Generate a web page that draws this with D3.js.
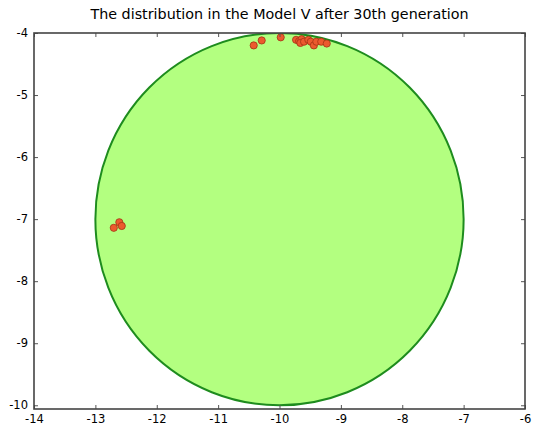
<!DOCTYPE html>
<html>
<head>
<meta charset="utf-8">
<script src="https://cdn.jsdelivr.net/npm/d3@7"></script>
<style>
  body { margin: 0; background: #fff; }
  svg { display: block; font-family: "DejaVu Sans", sans-serif; }
</style>
</head>
<body>
<svg id="chart" width="533" height="427"></svg>
<script>
// Axis tick values
const xTicks = [-14, -13, -12, -11, -10, -9, -8, -7, -6];
const yTicks = [-4, -5, -6, -7, -8, -9, -10];

// Feasible region: circle centred at (-10, -7), radius 3
const regionCenter = [-10, -7];
const regionRadius = 3;

// Population positions after the 30th generation
const popX = [-10.42, -10.29, -9.98, -9.73, -9.68, -9.64, -9.66, -9.60, -9.53, -9.49, -9.44, -9.40, -9.32, -9.23,
              -12.70, -12.61, -12.57];
const popY = [-4.20, -4.12, -4.07, -4.11, -4.13, -4.10, -4.16, -4.14, -4.11, -4.14, -4.20, -4.14, -4.14, -4.17,
              -7.14, -7.05, -7.11];

const svg = d3.select("#chart");
const m = { left: 34, right: 525, top: 33, bottom: 409 };

const x = d3.scaleLinear().domain([-14, -6]).range([m.left, m.right]);
const y = d3.scaleLinear().domain([-10.06, -4]).range([m.bottom, m.top]);

// Title
svg.append("text")
  .attr("x", (m.left + m.right) / 2)
  .attr("y", 19)
  .attr("text-anchor", "middle")
  .attr("font-size", 14.3)
  .attr("fill", "#000")
  .text("The distribution in the Model V after 30th generation");

svg.append("defs").append("clipPath").attr("id", "plot-clip")
  .append("rect").attr("x", m.left).attr("y", m.top)
  .attr("width", m.right - m.left).attr("height", m.bottom - m.top);

const plot = svg.append("g").attr("clip-path", "url(#plot-clip)");

// Region (drawn as an ellipse in data coordinates)
plot.append("ellipse")
  .attr("cx", x(regionCenter[0]))
  .attr("cy", y(regionCenter[1]))
  .attr("rx", x(regionCenter[0] + regionRadius) - x(regionCenter[0]))
  .attr("ry", y(regionCenter[1]) - y(regionCenter[1] + regionRadius))
  .attr("fill", "#b3ff80")
  .attr("stroke", "#1e8c1e")
  .attr("stroke-width", 2);

// Individuals
const pts = popX.map((v, i) => [v, popY[i]]);
svg.append("g").selectAll("circle").data(pts).enter().append("circle")
  .attr("cx", d => x(d[0]))
  .attr("cy", d => y(d[1]))
  .attr("r", 3.6)
  .attr("fill", "#ec5a2e")
  .attr("stroke", "#a33414")
  .attr("stroke-width", 0.8);

// Axes with inward ticks on all four sides
const tickLen = 4;
const fmt = d => d3.format("d")(d).replace("\u2212", "-");

const axBottom = svg.append("g").attr("transform", `translate(0,${m.bottom})`)
  .call(d3.axisBottom(x).tickValues(xTicks).tickSizeInner(-tickLen).tickSizeOuter(0).tickPadding(6).tickFormat(fmt));
const axTop = svg.append("g").attr("transform", `translate(0,${m.top})`)
  .call(d3.axisTop(x).tickValues(xTicks).tickSizeInner(-tickLen).tickSizeOuter(0).tickFormat(""));
const axLeft = svg.append("g").attr("transform", `translate(${m.left},0)`)
  .call(d3.axisLeft(y).tickValues(yTicks).tickSizeInner(-tickLen).tickSizeOuter(0).tickPadding(6).tickFormat(fmt));
const axRight = svg.append("g").attr("transform", `translate(${m.right},0)`)
  .call(d3.axisRight(y).tickValues(yTicks).tickSizeInner(-tickLen).tickSizeOuter(0).tickFormat(""));

[axBottom, axTop, axLeft, axRight].forEach(g => {
  g.select(".domain").remove();
  g.selectAll(".tick line").attr("stroke", "#555").attr("stroke-width", 1);
  g.selectAll(".tick text").attr("font-size", 11.5).attr("fill", "#000")
    .attr("font-family", "DejaVu Sans, sans-serif");
});

// Frame
svg.append("rect")
  .attr("x", m.left).attr("y", m.top)
  .attr("width", m.right - m.left).attr("height", m.bottom - m.top)
  .attr("fill", "none").attr("stroke", "#444").attr("stroke-width", 1.6);
</script>
</body>
</html>
